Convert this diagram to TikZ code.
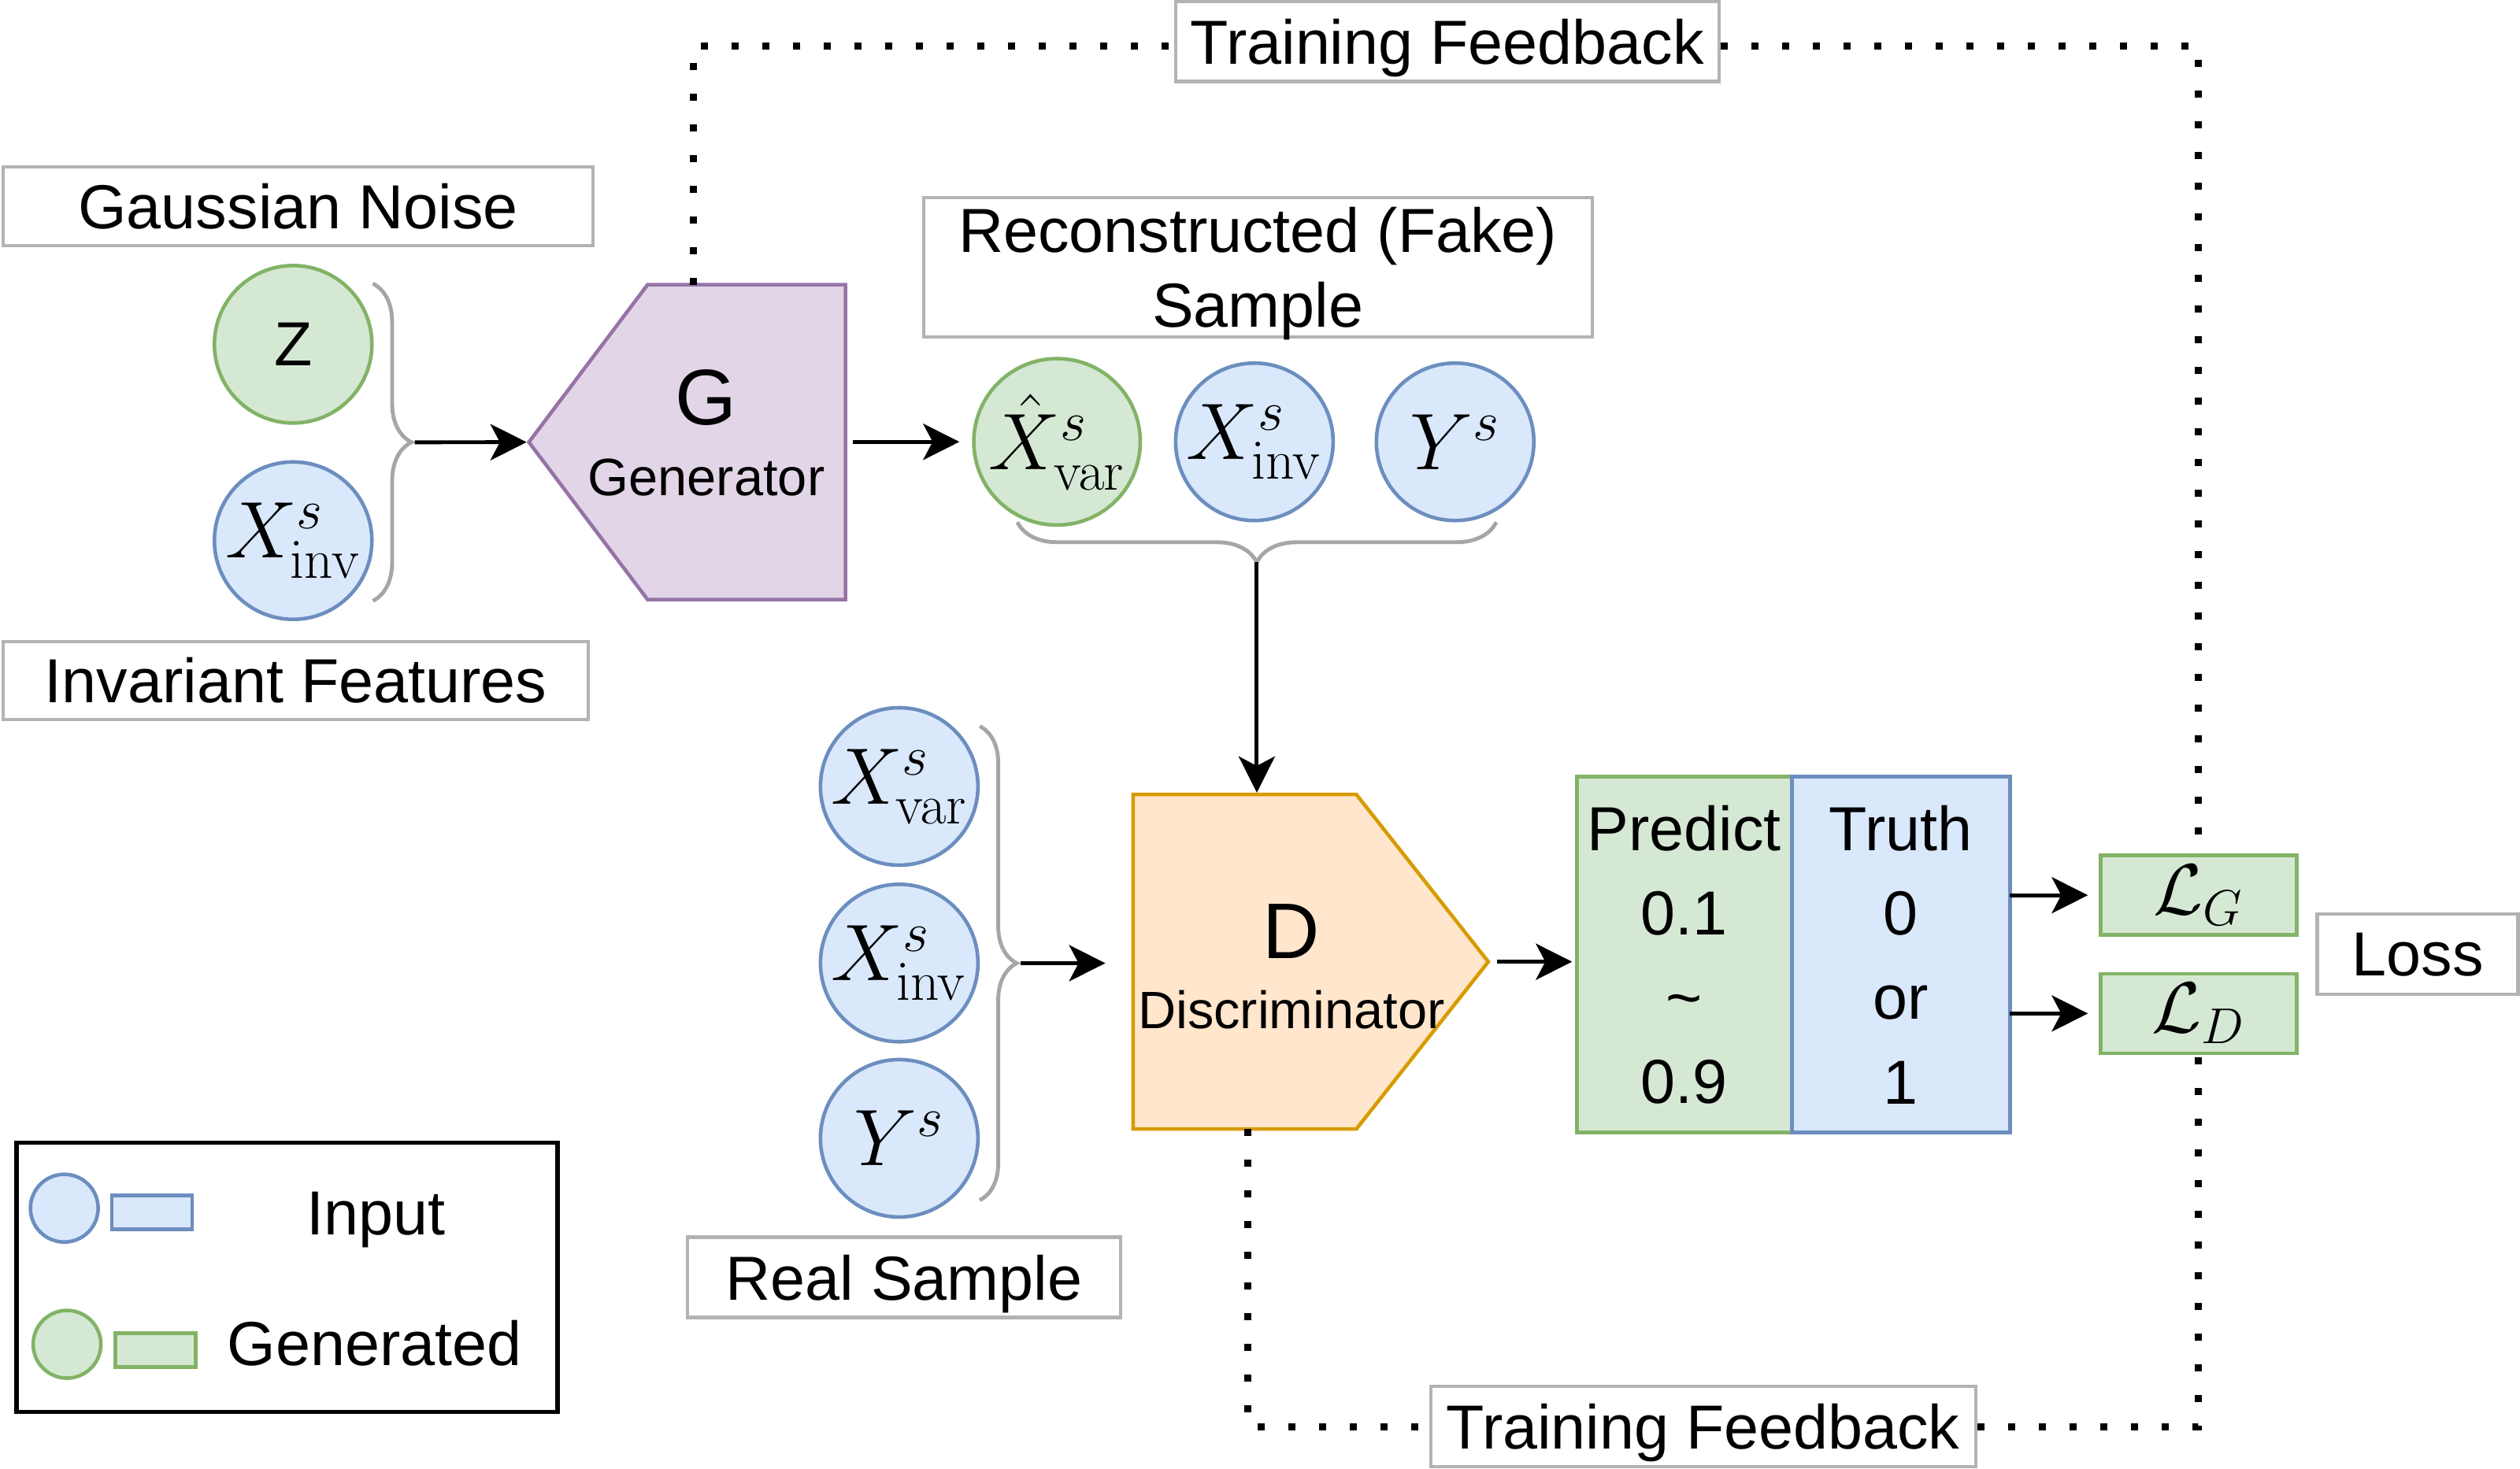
\RequirePackage{fix-cm}
\documentclass[tikz,border=0pt]{standalone}
\usepackage[no-math]{fontspec}
\setmainfont{Liberation Sans}
\usetikzlibrary{shapes.symbols, arrows.meta, positioning, decorations.pathreplacing, calc}

\definecolor{boxgray}{HTML}{B3B3B3}
\definecolor{bracegray}{HTML}{A6A6A6}
\definecolor{inline}{HTML}{6C8EBF}
\definecolor{infill}{HTML}{DAE8FC}
\definecolor{genline}{HTML}{82B366}
\definecolor{genfill}{HTML}{D5E8D4}
\definecolor{gline}{HTML}{9673A6}
\definecolor{gfill}{HTML}{E1D5E7}
\definecolor{dline}{HTML}{D79B00}
\definecolor{dfill}{HTML}{FFE6CC}

\newcommand{\mainsz}{\fontsize{22.5}{27}\selectfont}
\newcommand{\colsz}{\fontsize{22.5}{30.5}\selectfont}
\newcommand{\mathsz}{\fontsize{29}{33}\selectfont}
\newcommand{\losssz}{\fontsize{26}{30}\selectfont}
\newcommand{\bigsz}{\fontsize{28.5}{32}\selectfont}
\newcommand{\subsz}{\fontsize{19}{23}\selectfont}

\begin{document}
\begin{tikzpicture}[x = 0.20408mm, y = -0.20408mm, line width = 1.2pt,
    tagbox/.style = {draw = boxgray, fill = white, line width = 1.2pt, inner sep = 0pt, font = \mainsz, align = center, text depth = 0pt},
    incirc/.style = {circle, draw = inline, fill = infill, line width = 1.3pt, minimum size = 2cm, inner sep = 0pt, font = \mathsz},
    gencirc/.style = {circle, draw = genline, fill = genfill, line width = 1.3pt, minimum size = 2cm, inner sep = 0pt, font = \mathsz},
    inbox/.style = {draw = inline, fill = infill, line width = 1.3pt, inner sep = 0pt, outer sep = 0pt},
    genbox/.style = {draw = genline, fill = genfill, line width = 1.3pt, inner sep = 0pt, outer sep = 0pt},
    arr/.style = {-{Stealth[length = 0.46cm, width = 0.46cm, inset = 0.12cm]}, line width = 1.4pt},
    fb/.style = {line width = 0.09cm, dash pattern = on 0.09cm off 0.3cm},
    brc/.style = {draw = bracegray, line width = 1.4pt, decorate, decoration = {brace, amplitude = #1}}]

    \useasboundingbox (0,0) rectangle (1568,914);

    % generator inputs
    \node[tagbox, minimum width = 7.49cm, minimum height = 1cm] (noise) at (185.5,128.5) {Gaussian Noise};
    \node[gencirc, font = \mainsz] (z) at (182.4,214.3) {Z};
    \node[incirc] (xinv) at (182.4,336.5) {$X^s_{\mathrm{inv}}$};
    \node[tagbox, minimum width = 7.43cm, minimum height = 0.99cm] (invfeat) at (184,423.5) {Invariant Features};
    \draw[brc = 0.49cm] (232,176.5) -- (232,374);
    \coordinate (zbrc) at (258,275.3);

    % generator
    \node[signal, signal to = west, signal from = nowhere, signal pointer angle = 106,
          draw = gline, fill = gfill, line width = 1.3pt, inner sep = 0pt,
          minimum width = 4.02cm, minimum height = 4cm] (G) at (464.5,275.2) {};
    \node[font = \bigsz] (gname) at (439.5,247.5) {G};
    \node[font = \subsz] (gsub) at (439.5,297) {Generator};

    % fake sample
    \node[tagbox, minimum width = 8.49cm, minimum height = 1.77cm] (fake) at (782.6,166.4) {Reconstructed (Fake)\\Sample};
    \node[gencirc] (xhat) at (657.7,275) {$\hat{X}^s_{\mathrm{var}}$};
    \node[incirc] (xinvf) at (780.5,275) {$X^s_{\mathrm{inv}}$};
    \node[incirc] (yf) at (905.4,275) {$Y^s$};
    \draw[brc = 0.51cm] (931,325) -- (633,325);
    \coordinate (fbrc) at (782,350);

    % real sample
    \node[incirc] (xvar) at (559.5,489.5) {$X^s_{\mathrm{var}}$};
    \node[incirc] (xinvr) at (559.5,599.4) {$X^s_{\mathrm{inv}}$};
    \node[incirc] (yr) at (559.5,708.5) {$Y^s$};
    \node[tagbox, minimum width = 5.5cm, minimum height = 1.02cm] (real) at (562.5,795) {Real Sample};
    \draw[brc = 0.47cm] (609.6,452) -- (609.6,747);
    \coordinate (rbrc) at (635,599.5);

    % discriminator
    \node[signal, signal to = east, signal from = nowhere, signal pointer angle = 103.5,
          draw = dline, fill = dfill, line width = 1.3pt, inner sep = 0pt,
          minimum width = 4.51cm, minimum height = 4.25cm] (D) at (774.5,598.6) {};
    \node[font = \bigsz] (dname) at (803.5,579.7) {D};
    \node[font = \subsz] (dsub) at (803.5,628.7) {Discriminator};

    % output and loss
    \node[genbox, minimum width = 2.73cm, minimum height = 4.52cm, font = \colsz, align = center] (pred) at (1048,594.2) {Predict\\0.1\\\textasciitilde\\0.9};
    \node[inbox, minimum width = 2.77cm, minimum height = 4.52cm, font = \colsz, align = center, right = 0pt of pred] (truth) {Truth\\0\\or\\1};
    \node[genbox, minimum width = 2.49cm, minimum height = 1.01cm, font = \losssz] (lg) at (1368,557.2) {$\mathcal{L}_G$};
    \node[genbox, minimum width = 2.49cm, minimum height = 1.01cm, font = \losssz] (ld) at (1368,630.8) {$\mathcal{L}_D$};
    \node[tagbox, minimum width = 2.55cm, minimum height = 1.02cm] (loss) at (1504.3,594) {Loss};

    % connectors
    \draw[arr] (zbrc) -- (G.west);
    \draw[arr, shorten < = 0.07cm, shorten > = 0.16cm] (G.east |- xhat) -- (xhat.west);
    \draw[arr] (fbrc) -- (fbrc |- D.north);
    \draw[arr, shorten > = 0.33cm] (rbrc) -- (rbrc -| D.west);
    \draw[arr, shorten < = 0.08cm, shorten > = 0.06cm] (D.east) -- (D.east -| pred.west);
    \draw[arr, shorten > = 0.16cm] (truth.east |- lg.west) -- (lg.west);
    \draw[arr, shorten > = 0.16cm] (truth.east |- ld.west) -- (ld.west);

    % training feedback
    \node[tagbox, minimum width = 6.9cm, minimum height = 1.02cm] (fbtop) at (900.5,25.7) {Training Feedback};
    \node[tagbox, minimum width = 6.92cm, minimum height = 1.02cm] (fbbot) at (1059.7,888) {Training Feedback};
    \coordinate (gtop) at (431.4,177.3);
    \coordinate (dbot) at (776.5,702.7);
    \draw[fb] (gtop) |- ([yshift = -0.065cm]fbtop.west);
    \draw[fb] ([yshift = -0.065cm]fbtop.east) -| (lg.north);
    \draw[fb] (dbot) |- (fbbot.west);
    \draw[fb] (fbbot.east) -| (ld.south);

    % legend
    \node[draw = black, line width = 1.6pt, minimum width = 6.87cm, minimum height = 3.42cm] (legend) at (178.7,795) {};
    \node[incirc, minimum size = 0.86cm] (lgin) at (40,752) {};
    \node[inbox, minimum width = 1.02cm, minimum height = 0.43cm] (lgbin) at (94.5,754.5) {};
    \node[font = \mainsz, text depth = 0pt] (lgtin) at (234,755.4) {Input};
    \node[gencirc, minimum size = 0.86cm] (lggen) at (41.7,836.7) {};
    \node[genbox, minimum width = 1.02cm, minimum height = 0.43cm] (lgbgen) at (96.8,840.4) {};
    \node[font = \mainsz, text depth = 0pt] (lgtgen) at (233,835.8) {Generated};
\end{tikzpicture}
\end{document}
